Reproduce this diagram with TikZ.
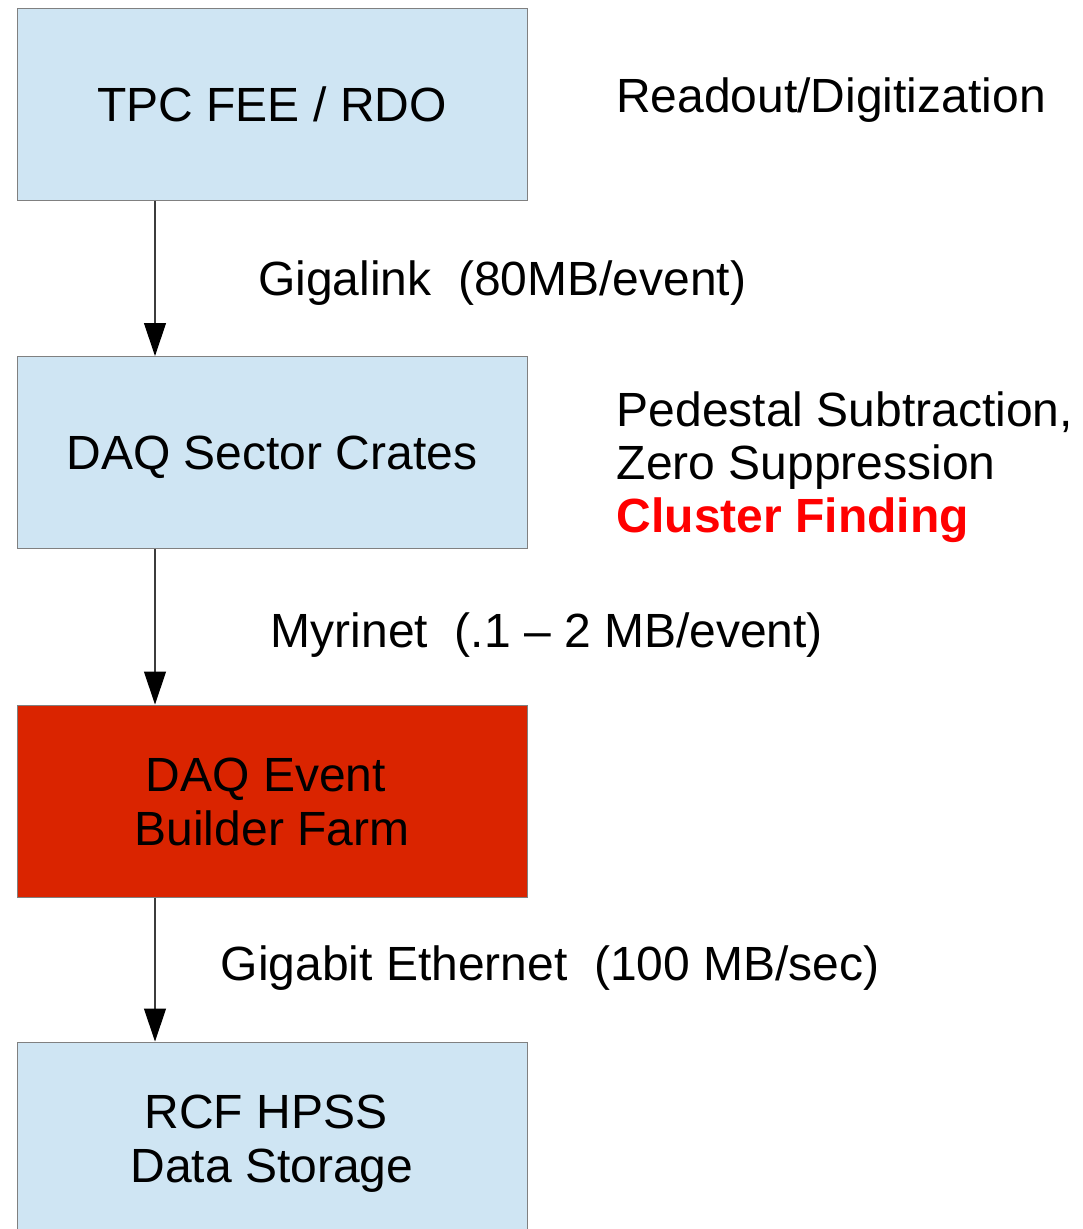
\documentclass[tikz,border=0pt]{standalone}
\usepackage{fontspec}
\setmainfont{Liberation Sans}
\usetikzlibrary{arrows.meta}
\definecolor{boxblue}{RGB}{207,229,243}
\definecolor{boxred}{RGB}{218,36,0}
\definecolor{edgegray}{RGB}{128,128,128}
\definecolor{flowgray}{RGB}{60,60,60}
% trailing word space that survives the line break
\newcommand{\tailspace}{\rule{12pt}{0pt}}
\begin{document}
\begin{tikzpicture}[x=1pt,y=-1pt,
  every node/.style={font=\fontsize{48}{54}\selectfont},
  stage/.style={draw=edgegray, line width=1pt, fill=boxblue,
    minimum width=510pt, minimum height=192pt, inner sep=0pt,
    align=center, text height=34.4pt, text depth=0pt},
  twoline/.style={text height=88.4pt},
  hot/.style={fill=boxred},
  note/.style={anchor=base west, inner sep=0pt, align=left},
  flow/.style={draw=flowgray, line width=1.2pt,
    -{Triangle[length=33pt,width=22pt,color=black]}}]
  \clip (0,0) rectangle (1083,1229);
  \fill[white] (0,0) rectangle (1083,1229);

  % processing chain
  \node[stage] (tpc) at (272,104) {TPC FEE / RDO};
  \node[stage] (sector) at (272,452.5) {DAQ Sector Crates};
  \node[stage, hot, twoline] (evb) at (272,801) {DAQ Event\tailspace\\Builder Farm};
  \node[stage, twoline] (hpss) at (272,1138) {RCF HPSS\tailspace\\Data Storage};

  % links between stages
  \coordinate (col) at (155,0);
  \draw[flow] (tpc.south -| col) -- (sector.north -| col);
  \draw[flow] (sector.south -| col) -- (evb.north -| col);
  \draw[flow] (evb.south -| col) -- (hpss.north -| col);

  % link labels
  \node[note] (l1) at (258,295) {Gigalink\ \ (80MB/event)};
  \node[note] (l2) at (270.5,647.7) {Myrinet\ \ (.1 – 2 MB/event)};
  \node[note] (l3) at (220.5,980.5) {Gigabit Ethernet\ \ (100 MB/sec)};

  % stage descriptions (multi-line nodes sit on their last baseline)
  \node[note] (d1) at (616,112.7) {Readout/Digitization};
  \node[note, font=\fontsize{48}{53}\selectfont] (d2) at (616.5,532.7)
    {Pedestal Subtraction,\\Zero Suppression\\{\color{red}\bfseries Cluster Finding}};
\end{tikzpicture}
\end{document}
